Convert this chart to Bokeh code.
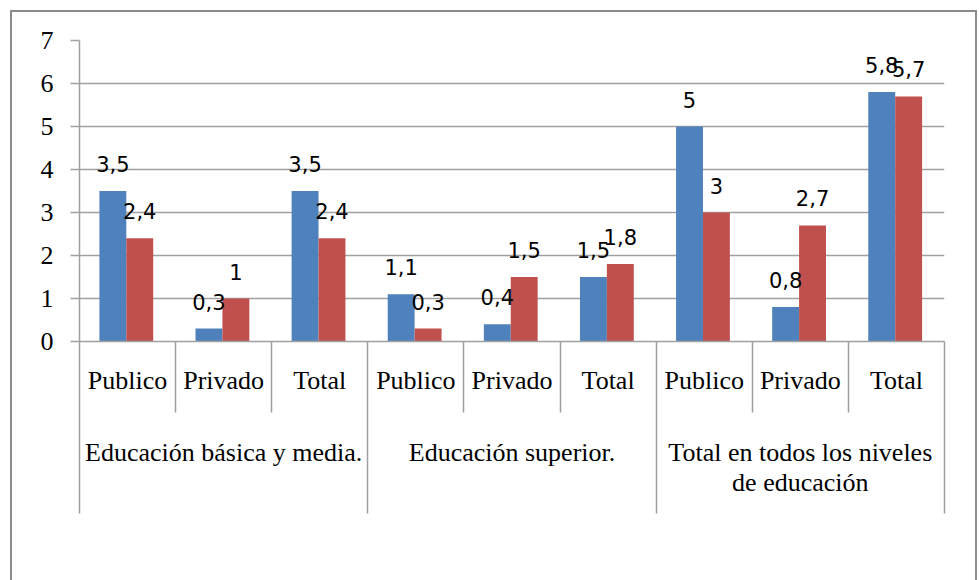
from bokeh.plotting import figure
from bokeh.models import (ColumnDataSource, FixedTicker, LinearAxis, Range1d,
                          Legend, LegendItem, Grid)
from bokeh.core.properties import value
from bokeh.embed import file_html
from bokeh.resources import INLINE

# ---- data ----
groups = ["Educación básica y media.", "Educación superior.",
          "Total en todos los niveles\nde educación"]
subcats = ["Publico", "Privado", "Total"]
ocde = [3.5, 0.3, 3.5, 1.1, 0.4, 1.5, 5, 0.8, 5.8]
chile = [2.4, 1, 2.4, 0.3, 1.5, 1.8, 3, 2.7, 5.7]
series_names = ["OCDE (promedio)", "Chile"]
y_ticks = [0, 1, 2, 3, 4, 5, 6, 7]

BLUE = "#4F81BD"
RED = "#C0504D"
GRID = "#a0a0a0"
SERIF = "Liberation Serif"

n = len(ocde)
centers = [i + 0.5 for i in range(n)]
pair_c = [i + 0.487 for i in range(n)]
bar_w = 0.28

def fmt(v):
    return f"{v:g}".replace(".", ",")

src = ColumnDataSource(dict(
    xb=[c - bar_w / 2 for c in pair_c],
    xr=[c + bar_w / 2 for c in pair_c],
    ocde=ocde, chile=chile,
    lo=[fmt(v) for v in ocde], lc=[fmt(v) for v in chile],
))

p = figure(frame_width=865, frame_height=301,
           x_range=Range1d(0, n), y_range=Range1d(0, 7),
           x_axis_type=None, y_axis_type=None, output_backend="svg",
           toolbar_location=None, min_border_left=67, min_border_top=28,
           min_border_right=31, min_border_bottom=239)
p.outline_line_color = None
p.background_fill_color = "white"
p.border_fill_color = "white"
p.styles = {"border": "2px solid #8c8c8c"}
p.margin = (10, 0, 0, 10)

# y axis and grid
yax = LinearAxis(ticker=FixedTicker(ticks=y_ticks, minor_ticks=[]))
yax.axis_line_color = GRID
yax.axis_line_width = 1.5
yax.major_tick_line_color = GRID
yax.major_tick_line_width = 1.5
yax.major_tick_out = 9
yax.major_tick_in = 0
yax.minor_tick_line_color = None
yax.major_label_standoff = 17
yax.major_label_text_font = SERIF
yax.major_label_text_font_size = "26px"
yax.major_label_text_color = "black"
p.add_layout(yax, "left")
p.add_layout(Grid(dimension=1, ticker=FixedTicker(ticks=y_ticks),
                  grid_line_color=GRID, grid_line_width=1.5))

def label_axis(ticks, labels, standoff, minor=(), tick_in=0, tick_out=0, line=False):
    ax = LinearAxis(ticker=FixedTicker(ticks=list(ticks), minor_ticks=list(minor)))
    ax.major_label_overrides = {t: s for t, s in zip(ticks, labels)}
    ax.axis_line_color = GRID if line else None
    ax.axis_line_width = 1.5
    ax.major_tick_line_color = None
    ax.major_tick_out = 0
    ax.major_tick_in = 0
    ax.minor_tick_line_color = GRID if minor else None
    ax.minor_tick_line_width = 1.5
    ax.minor_tick_in = tick_in
    ax.minor_tick_out = tick_out
    ax.major_label_standoff = standoff
    ax.major_label_text_font = SERIF
    ax.major_label_text_font_size = "26px"
    ax.major_label_text_color = "black"
    p.add_layout(ax, "below")
    return ax

# sub-category labels + short separators
sub_labels = subcats * len(groups)
label_axis(centers, sub_labels, -47, minor=[1, 2, 4, 5, 7, 8],
           tick_in=0, tick_out=71, line=True)

# group labels (first line) + long separators
gcenters = [1.5, 4.5, 7.5]
first_lines = [g.split("\n")[0] for g in groups]
label_axis(gcenters, first_lines, -76, minor=[0, 3, 6, 9],
           tick_in=56, tick_out=116)

# group labels (second line, where present)
second = [(c, g.split("\n")[1]) for c, g in zip(gcenters, groups) if "\n" in g]
label_axis([c for c, _ in second], [s for _, s in second], -2)

# bars
rb = p.vbar(x="xb", top="ocde", bottom=0, width=bar_w, source=src,
            fill_color=BLUE, line_color=None)
rr = p.vbar(x="xr", top="chile", bottom=0, width=bar_w, source=src,
            fill_color=RED, line_color=None)

# data labels
for xcol, ycol, tcol in (("xb", "ocde", "lo"), ("xr", "chile", "lc")):
    p.text(x=xcol, y=ycol, text=tcol, source=src, y_offset=-27,
           text_align="center", text_baseline="alphabetic",
           text_font=value("DejaVu Sans"), text_font_size="21px",
           text_color="black")

legend = Legend(items=[LegendItem(label=series_names[0], renderers=[rb]),
                       LegendItem(label=series_names[1], renderers=[rr])],
                orientation="horizontal", location="top_center")
legend.label_text_font = SERIF
legend.label_text_font_size = "26px"
legend.label_text_color = "black"
legend.glyph_width = 11
legend.glyph_height = 11
legend.label_standoff = 8
legend.label_width = 87
legend.spacing = 27
legend.border_line_color = None
legend.background_fill_alpha = 0
legend.padding = 0
legend.margin = 35
p.add_layout(legend, "below")

open("out.html", "w").write(file_html(p, INLINE))
